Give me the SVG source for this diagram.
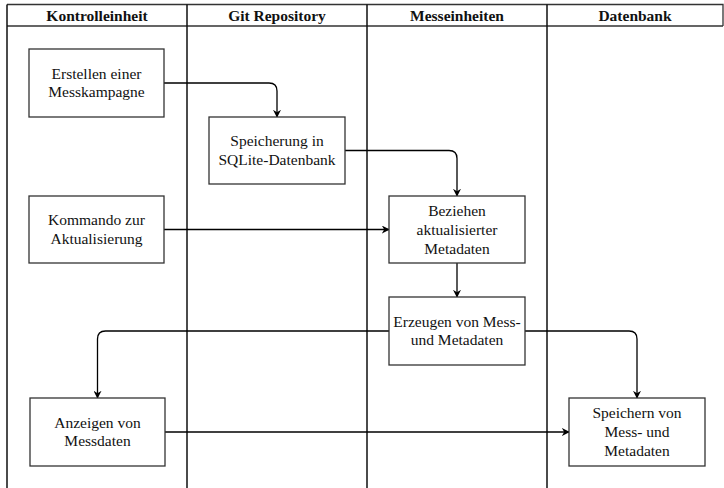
<svg xmlns="http://www.w3.org/2000/svg" width="724" height="488" viewBox="0 0 724 488">
  <style>
    .lane { fill: none; stroke: #111; stroke-width: 1.5; }
    .head { fill: none; stroke: #333; stroke-width: 1.3; }
    .box { fill: #fff; stroke: #333; stroke-width: 1.3; }
    .edge { fill: none; stroke: #000; stroke-width: 1.3; }
    text { font-size: 15.5px; fill: #111; text-anchor: middle; }
    .title { font-weight: bold; }
  </style>
  <defs>
    <marker id="arrow" viewBox="0 0 10 10" refX="9" refY="5" markerWidth="8" markerHeight="8" markerUnits="userSpaceOnUse" orient="auto">
      <path d="M0,0 L10,5 L0,10 L3,5 Z" fill="#000"/>
    </marker>
  </defs>

  <g font-family="'Liberation Serif', 'DejaVu Serif', 'Times New Roman', serif">
  <!-- swimlane pool -->
  <g id="pool">
    <path class="head" d="M7,4.5 H723 V26 M7,26 H723"/>
    <path class="lane" d="M7,4.5 V488 M187,4.5 V488 M367,4.5 V488 M547,4.5 V488"/>
    <text class="title" x="97" y="20.5">Kontrolleinheit</text>
    <text class="title" x="277" y="20.5">Git Repository</text>
    <text class="title" x="457" y="20.5">Messeinheiten</text>
    <text class="title" x="635" y="20.5">Datenbank</text>
  </g>

  <!-- connectors -->
  <g id="connectors">
    <path class="edge" marker-end="url(#arrow)" d="M164,83 H269 Q277,83 277,91 V117"/>
    <path class="edge" marker-end="url(#arrow)" d="M345,150.5 H449 Q457,150.5 457,158.5 V196"/>
    <path class="edge" marker-end="url(#arrow)" d="M164,229.5 H389"/>
    <path class="edge" marker-end="url(#arrow)" d="M457,263 V297"/>
    <path class="edge" marker-end="url(#arrow)" d="M389,331 H105.5 Q97.5,331 97.5,339 V398"/>
    <path class="edge" marker-end="url(#arrow)" d="M525,331 H629 Q637,331 637,339 V398"/>
    <path class="edge" marker-end="url(#arrow)" d="M165,432 H569"/>
  </g>

  <g id="erstellen">
    <rect class="box" x="29" y="49" width="135" height="68"/>
    <text x="96.5" y="78.6">Erstellen einer</text>
    <text x="96.5" y="97.3">Messkampagne</text>
  </g>

  <g id="speicherung">
    <rect class="box" x="209" y="117" width="136" height="67"/>
    <text x="277" y="146">Speicherung in</text>
    <text x="277" y="164.7">SQLite-Datenbank</text>
  </g>

  <g id="kommando">
    <rect class="box" x="29" y="196" width="135" height="67"/>
    <text x="96.5" y="225">Kommando zur</text>
    <text x="96.5" y="243.7">Aktualisierung</text>
  </g>

  <g id="beziehen">
    <rect class="box" x="389" y="196" width="136" height="67"/>
    <text x="457" y="216.3">Beziehen</text>
    <text x="457" y="235">aktualisierter</text>
    <text x="457" y="253.7">Metadaten</text>
  </g>

  <g id="erzeugen">
    <rect class="box" x="389" y="297" width="136" height="68"/>
    <text x="457" y="326.7">Erzeugen von Mess-</text>
    <text x="457" y="345.4">und Metadaten</text>
  </g>

  <g id="anzeigen">
    <rect class="box" x="30" y="398" width="135" height="68"/>
    <text x="97.5" y="427.6">Anzeigen von</text>
    <text x="97.5" y="446.3">Messdaten</text>
  </g>

  <g id="speichern">
    <rect class="box" x="569" y="398" width="136" height="68"/>
    <text x="637" y="418.3">Speichern von</text>
    <text x="637" y="437">Mess- und</text>
    <text x="637" y="455.7">Metadaten</text>
  </g>
  </g>
</svg>
